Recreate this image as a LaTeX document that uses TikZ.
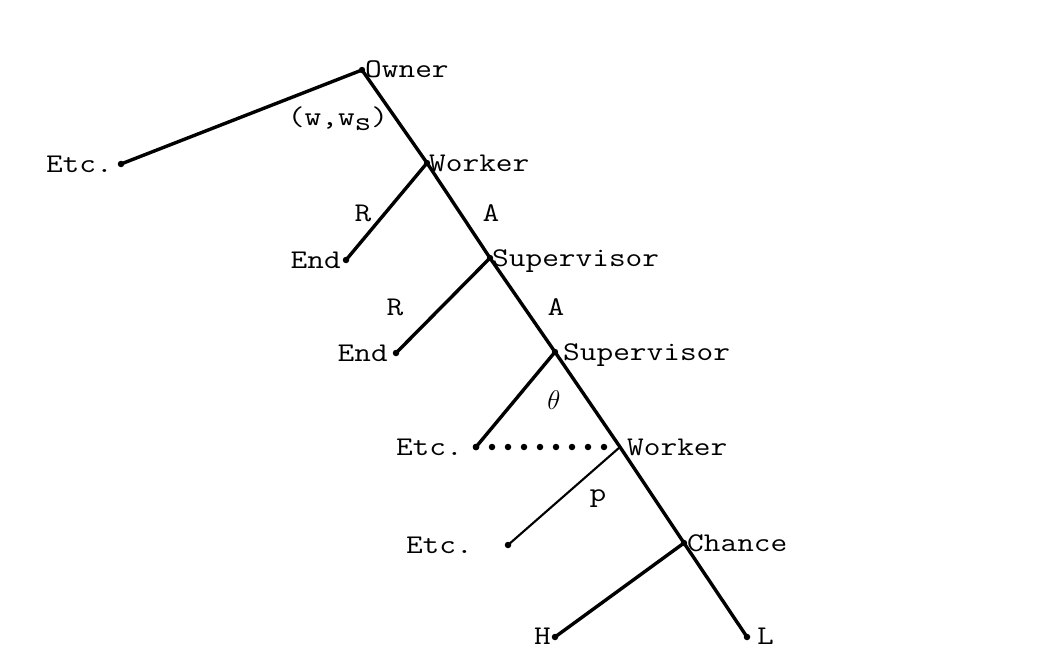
\documentclass[tikz,border=0pt]{standalone}
\usepackage{fix-cm}
\newcommand\wtxt[1]{\scalebox{1.2}[1]{#1}}
\begin{document}
\begin{tikzpicture}[x=1pt,y=-1pt,
  lab/.style={inner sep=0pt,font=\fontsize{27}{29}\ttfamily},
  bw/.style={lab,anchor=base west},
  be/.style={lab,anchor=base east},
  bc/.style={lab,anchor=base},
  pt/.style={circle,fill=black,inner sep=0pt,minimum size=6.5pt},
  edge/.style={line width=3.4pt},
  thinedge/.style={line width=2.1pt},
  dotline/.style={line width=6.5pt,line cap=round,dash pattern=on 0pt off 16pt}]
\useasboundingbox (0,0) rectangle (1057,650);
% decision points
\coordinate (own) at (362,70);
\coordinate (w1) at (427,163);
\coordinate (s1) at (490,258);
\coordinate (s2) at (555,352);
\coordinate (w2) at (620,447);
\coordinate (ch) at (684,543);
\node[pt] (L) at (747,637) {};
\node[pt] (etcA) at (121,164) {};
\node[pt] (end1) at (346,260) {};
\node[pt] (end2) at (396,353) {};
\node[pt] (etcB) at (476,447) {};
\node[pt] (etcC) at (508,545) {};
\node[pt] (H) at (555,637) {};
\foreach \c in {own,w1,s1,s2,ch} \fill (\c) circle (3.2pt);
% edges
\draw[edge] (own) -- (w1) -- (s1) -- (s2) -- (w2) -- (ch) -- (L.center);
\draw[edge] (own) -- (etcA.center);
\draw[edge] (w1) -- (end1.center);
\draw[edge] (s1) -- (end2.center);
\draw[edge] (s2) -- (etcB.center);
\draw[thinedge] (w2) -- (etcC.center);
\draw[edge] (ch) -- (H.center);
\draw[dotline] (etcB.center) -- (w2);
% node labels
\node[bw] (lOwn) at (365,78) {\wtxt{Owner}};
\node[bw] (lW1) at (429,171) {\wtxt{Worker}};
\node[bw] (lS1) at (492,266) {\wtxt{Supervisor}};
\node[bw] (lS2) at (563,360) {\wtxt{Supervisor}};
\node[bw] (lW2) at (627,455) {\wtxt{Worker}};
\node[bw] (lCh) at (687,551) {\wtxt{Chance}};
\node[bw] (lL) at (757,644) {\wtxt{L}};
\node[be] (lH) at (551,644) {\wtxt{H}};
\node[be] (lEtcA) at (113,172) {\wtxt{Etc.}};
\node[be] (lEnd1) at (341,268) {\wtxt{End}};
\node[be] (lEnd2) at (388,361) {\wtxt{End}};
\node[be] (lEtcB) at (463,455) {\wtxt{Etc.}};
\node[be] (lEtcC) at (473,553) {\wtxt{Etc.}};
% action labels
\node[bc] (lw) at (338,126) {\wtxt{(w,w\raisebox{-0.35ex}{s})}};
\node[bc] (lR1) at (363,221) {\wtxt{R}};
\node[bc] (lA1) at (491,221) {\wtxt{A}};
\node[bc] (lR2) at (395,315) {\wtxt{R}};
\node[bc] (lA2) at (556,315) {\wtxt{A}};
\node[bc] (lth) at (554,409) {$\theta$};
\node[bc] (lp) at (598,501) {\wtxt{p}};
\end{tikzpicture}
\end{document}
